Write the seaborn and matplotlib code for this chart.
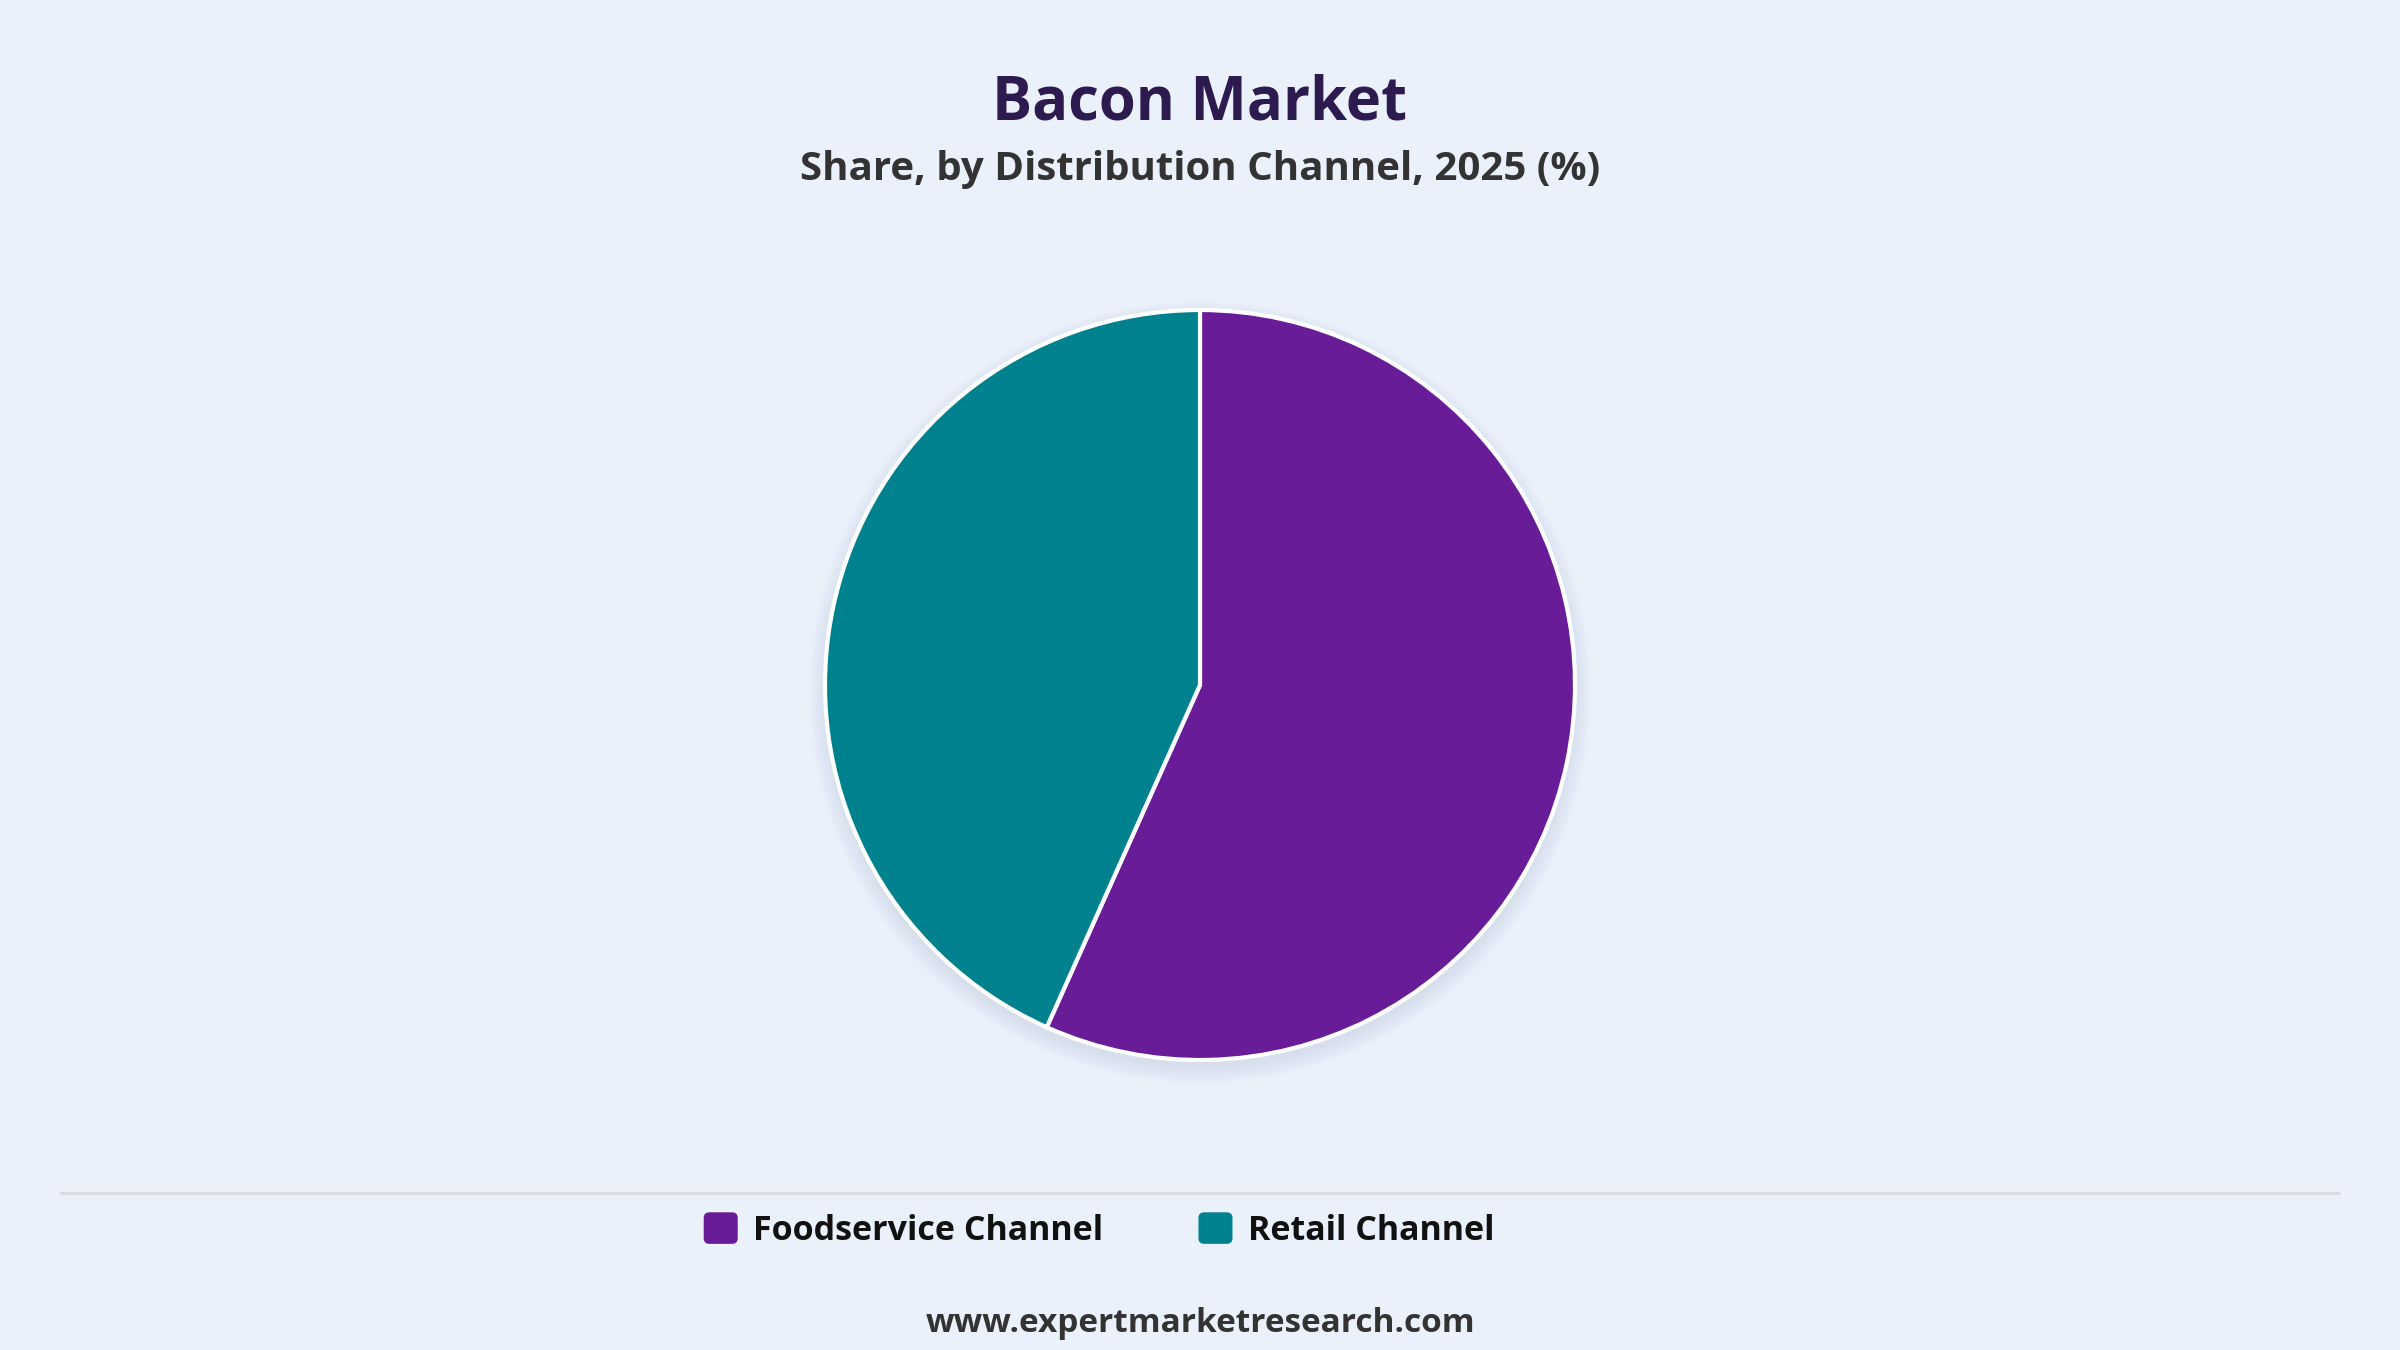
import matplotlib
matplotlib.use("Agg")
import matplotlib.pyplot as plt
import seaborn as sns
from matplotlib.patches import Patch, Circle, FancyBboxPatch
from matplotlib.lines import Line2D
from matplotlib.legend_handler import HandlerPatch

# data
channels = ["Foodservice Channel", "Retail Channel"]
shares = [56.7, 43.3]
colors = ["#691C98", "#00828E"]

BG = "#EAF1FB"
sns.set_theme(style="white")
plt.rcParams["font.family"] = ["Open Sans", "DejaVu Sans"]


class RoundSquare(HandlerPatch):
    # rounded legend swatches
    def create_artists(self, legend, orig_handle, xdescent, ydescent,
                       width, height, fontsize, trans):
        p = FancyBboxPatch((-xdescent, -ydescent), width, height,
                           boxstyle="round,pad=0,rounding_size=%f" % (height * 0.18),
                           facecolor=orig_handle.get_facecolor(), edgecolor="none",
                           transform=trans)
        return [p]


fig = plt.figure(figsize=(24, 13.5), dpi=100, facecolor=BG)

# pie axes: centre ~ (1200, 685) px, radius ~375 px
r_px = 375
lim = 1.08
half = r_px * lim
ax = fig.add_axes([(1200 - half) / 2400, (1350 - 685 - half) / 1350,
                   2 * half / 2400, 2 * half / 1350])
ax.set_facecolor(BG)
ax.set_aspect("equal")
ax.axis("off")

# soft shadow under the pie
for k in range(8):
    ax.add_patch(Circle((0, -0.02), 1.0 + 0.006 * k, color="#8a96a6",
                        alpha=0.025, lw=0, zorder=0))

ax.pie(shares, colors=colors, startangle=90, counterclock=False, radius=1.0,
       wedgeprops=dict(edgecolor="white", linewidth=3, zorder=2))
ax.set_xlim(-lim, lim)
ax.set_ylim(-lim, lim)

# titles
fig.text(0.5, 1 - 120 / 1350, "Bacon Market", ha="center", va="baseline",
         fontsize=43, fontweight="bold", color="#2D1A4F")
fig.text(0.5, 1 - 180 / 1350, "Share, by Distribution Channel, 2025 (%)",
         ha="center", va="baseline", fontsize=29, fontweight="bold", color="#333333")

# separator line
fig.add_artist(Line2D([61 / 2400, 2339 / 2400], [1 - 1193 / 1350] * 2,
                      color="#D9DDE3", lw=2.2, transform=fig.transFigure))

# legend
handles = [Patch(facecolor=c, edgecolor=c, label=l) for c, l in zip(colors, channels)]
leg = fig.legend(handles=handles, loc="center", bbox_to_anchor=(1099 / 2400, 1 - 1230 / 1350),
                 ncol=2, frameon=False, fontsize=24.5, handlelength=1.0, handleheight=1.05,
                 handletextpad=0.45, columnspacing=2.8, borderpad=0,
                 handler_map={Patch: RoundSquare()})
for t in leg.get_texts():
    t.set_fontweight("bold")
    t.set_color("#111111")

# footer
fig.text(0.5, 1 - 1332 / 1350, "www.expertmarketresearch.com", ha="center", va="baseline",
         fontsize=24, fontweight="bold", color="#333333")

fig.savefig("out.png", dpi=100, facecolor=BG)
